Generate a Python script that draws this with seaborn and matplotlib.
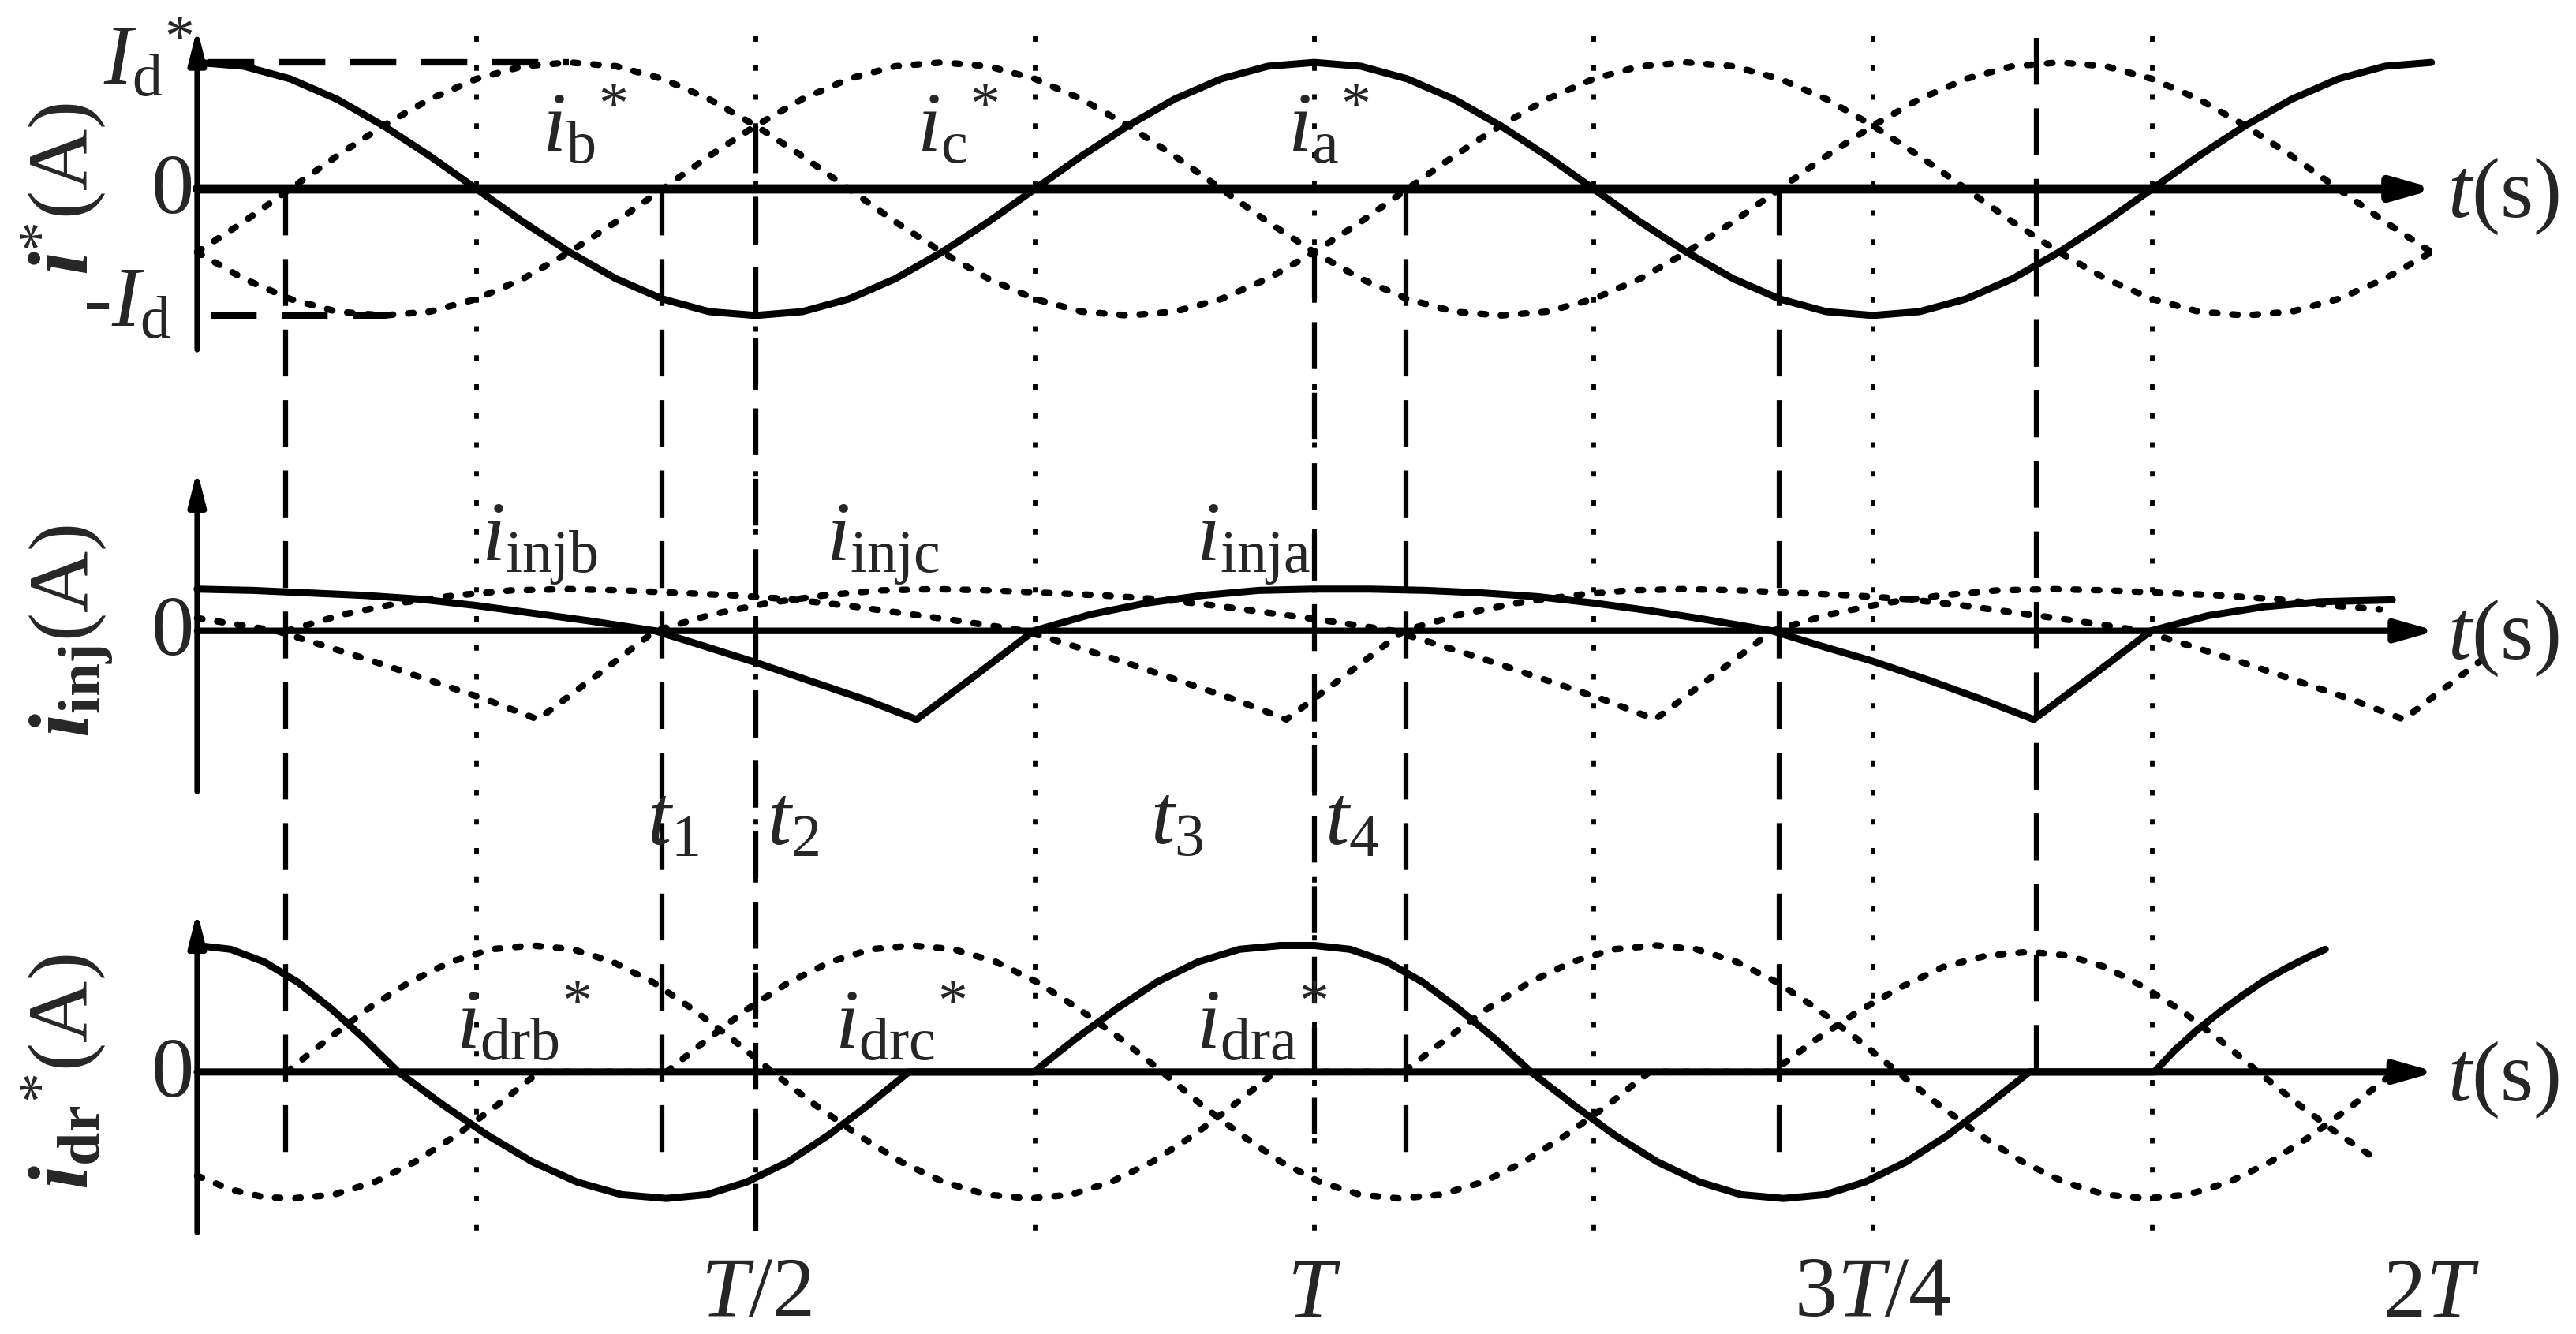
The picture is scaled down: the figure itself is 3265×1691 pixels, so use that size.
import matplotlib
matplotlib.use('Agg')
import matplotlib.pyplot as plt
import seaborn as sns

#======================================================================================
#**************************************************************************************
# Values (time in units of T, currents in units of Id)

# top panel : reference currents, one sample every T/24
tTop = [k / 24 for k in range(49)]
iaRef = [1.00, 0.97, 0.87, 0.71, 0.50, 0.26, 0.00, -0.26, -0.50, -0.71, -0.87, -0.97,
         -1.00, -0.97, -0.87, -0.71, -0.50, -0.26, 0.00, 0.26, 0.50, 0.71, 0.87, 0.97,
         1.00, 0.97, 0.87, 0.71, 0.50, 0.26, 0.00, -0.26, -0.50, -0.71, -0.87, -0.97,
         -1.00, -0.97, -0.87, -0.71, -0.50, -0.26, 0.00, 0.26, 0.50, 0.71, 0.87, 0.97, 1.00]
ibRef = [-0.50, -0.26, 0.00, 0.26, 0.50, 0.71, 0.87, 0.97, 1.00, 0.97, 0.87, 0.71,
         0.50, 0.26, 0.00, -0.26, -0.50, -0.71, -0.87, -0.97, -1.00, -0.97, -0.87, -0.71,
         -0.50, -0.26, 0.00, 0.26, 0.50, 0.71, 0.87, 0.97, 1.00, 0.97, 0.87, 0.71,
         0.50, 0.26, 0.00, -0.26, -0.50, -0.71, -0.87, -0.97, -1.00, -0.97, -0.87, -0.71, -0.50]
icRef = [-0.50, -0.71, -0.87, -0.97, -1.00, -0.97, -0.87, -0.71, -0.50, -0.26, 0.00, 0.26,
         0.50, 0.71, 0.87, 0.97, 1.00, 0.97, 0.87, 0.71, 0.50, 0.26, 0.00, -0.26,
         -0.50, -0.71, -0.87, -0.97, -1.00, -0.97, -0.87, -0.71, -0.50, -0.26, 0.00, 0.26,
         0.50, 0.71, 0.87, 0.97, 1.00, 0.97, 0.87, 0.71, 0.50, 0.26, 0.00, -0.26, -0.50]

# middle panel : injected currents
tInjA = [0.00, 0.05, 0.10, 0.15, 0.20, 0.25, 0.30, 0.35, 0.41, 0.45, 0.50, 0.55, 0.60, 0.644,
         0.70, 0.749, 0.80, 0.85, 0.90, 0.95, 1.00, 1.05, 1.10, 1.15, 1.20, 1.25, 1.30, 1.35,
         1.41, 1.45, 1.50, 1.55, 1.60, 1.644, 1.70, 1.749, 1.80, 1.85, 1.90, 1.965]
iInjA = [0.33, 0.32, 0.30, 0.28, 0.25, 0.20, 0.14, 0.08, 0.00, -0.11, -0.25, -0.40, -0.55, -0.70,
         -0.33, 0.00, 0.13, 0.22, 0.28, 0.32, 0.33, 0.33, 0.32, 0.30, 0.27, 0.22, 0.16, 0.09,
         0.00, -0.11, -0.24, -0.39, -0.55, -0.70, -0.33, 0.00, 0.12, 0.19, 0.23, 0.245]
tInjB = [0.08, 0.131, 0.181, 0.231, 0.281, 0.331, 0.381, 0.431, 0.481, 0.531, 0.581, 0.631,
         0.681, 0.741, 0.781, 0.831, 0.881, 0.931, 0.975, 1.031, 1.08, 1.131, 1.181, 1.231,
         1.281, 1.331, 1.381, 1.431, 1.481, 1.531, 1.581, 1.631, 1.681, 1.741, 1.781, 1.831,
         1.881, 1.931, 1.975, 2.045]
iInjB = [0.00, 0.13, 0.22, 0.28, 0.32, 0.33, 0.32, 0.30, 0.28, 0.25, 0.20, 0.14,
         0.08, 0.00, -0.11, -0.25, -0.40, -0.55, -0.70, -0.33, 0.00, 0.13, 0.22, 0.28,
         0.32, 0.33, 0.32, 0.30, 0.28, 0.25, 0.20, 0.14, 0.08, 0.00, -0.11, -0.25,
         -0.40, -0.55, -0.70, -0.23]
tInjC = [0.00, 0.071, 0.111, 0.161, 0.211, 0.261, 0.305, 0.361, 0.41, 0.461, 0.511, 0.561,
         0.611, 0.661, 0.711, 0.761, 0.811, 0.861, 0.911, 0.961, 1.011, 1.071, 1.111, 1.161,
         1.211, 1.261, 1.305, 1.361, 1.41, 1.461, 1.511, 1.561, 1.611, 1.661, 1.711, 1.761,
         1.811, 1.861, 1.911, 1.954]
iInjC = [0.10, 0.00, -0.11, -0.25, -0.40, -0.55, -0.70, -0.33, 0.00, 0.13, 0.22, 0.28,
         0.32, 0.33, 0.32, 0.30, 0.28, 0.25, 0.20, 0.14, 0.08, 0.00, -0.11, -0.25,
         -0.40, -0.55, -0.70, -0.33, 0.00, 0.13, 0.22, 0.28, 0.32, 0.33, 0.32, 0.30,
         0.28, 0.25, 0.20, 0.17]

# bottom panel : rectifier reference currents
tDrA = [0.00, 0.03, 0.06, 0.09, 0.12, 0.15, 0.18,
        0.22, 0.26, 0.30, 0.34, 0.38, 0.42,
        0.456, 0.492, 0.529, 0.565, 0.601, 0.637,
        0.749, 0.786, 0.823, 0.859, 0.896, 0.933, 0.97, 1.00,
        1.032, 1.065, 1.097, 1.129, 1.162, 1.194,
        1.232, 1.269, 1.307, 1.345, 1.382, 1.42,
        1.457, 1.493, 1.53, 1.567, 1.603, 1.64,
        1.752, 1.77, 1.79, 1.81, 1.83, 1.85, 1.87, 1.89, 1.905]
iDrA = [1.00, 0.97, 0.87, 0.71, 0.50, 0.26, 0.00,
        -0.26, -0.50, -0.71, -0.87, -0.97, -1.00,
        -0.97, -0.87, -0.71, -0.50, -0.26, 0.00,
        0.00, 0.26, 0.50, 0.71, 0.87, 0.97, 1.00, 1.00,
        0.97, 0.87, 0.71, 0.50, 0.26, 0.00,
        -0.26, -0.50, -0.71, -0.87, -0.97, -1.00,
        -0.97, -0.87, -0.71, -0.50, -0.26, 0.00,
        0.00, 0.17, 0.33, 0.47, 0.60, 0.72, 0.82, 0.91, 0.97]
tDrB = [0.08, 0.117, 0.153, 0.19, 0.227, 0.263, 0.30,
        0.336, 0.372, 0.408, 0.443, 0.479, 0.515,
        0.553, 0.592, 0.63, 0.668, 0.707, 0.745,
        0.782, 0.818, 0.855, 0.892, 0.928, 0.965,
        1.08, 1.118, 1.155, 1.193, 1.231, 1.268, 1.306,
        1.342, 1.378, 1.414, 1.45, 1.486, 1.522,
        1.559, 1.596, 1.634, 1.671, 1.708, 1.745,
        1.782, 1.819, 1.856, 1.893, 1.93, 1.967]
iDrB = [0.00, 0.26, 0.50, 0.71, 0.87, 0.97, 1.00,
        0.97, 0.87, 0.71, 0.50, 0.26, 0.00,
        -0.26, -0.50, -0.71, -0.87, -0.97, -1.00,
        -0.97, -0.87, -0.71, -0.50, -0.26, 0.00,
        0.00, 0.26, 0.50, 0.71, 0.87, 0.97, 1.00,
        0.97, 0.87, 0.71, 0.50, 0.26, 0.00,
        -0.26, -0.50, -0.71, -0.87, -0.97, -1.00,
        -0.97, -0.87, -0.71, -0.50, -0.26, 0.00]
tDrC = [0.00, 0.03, 0.06, 0.085,
        0.122, 0.159, 0.195, 0.232, 0.269, 0.306,
        0.42, 0.457, 0.493, 0.53, 0.567, 0.603, 0.64,
        0.677, 0.715, 0.752, 0.789, 0.827, 0.864,
        0.899, 0.935, 0.97, 1.005, 1.041, 1.076,
        1.113, 1.151, 1.188, 1.225, 1.263, 1.30,
        1.41, 1.448, 1.487, 1.525, 1.563, 1.602, 1.64,
        1.674, 1.708, 1.743, 1.777, 1.811, 1.845,
        1.88, 1.915, 1.949]
iDrC = [-0.82, -0.93, -0.99, -1.00,
        -0.97, -0.87, -0.71, -0.50, -0.26, 0.00,
        0.00, 0.26, 0.50, 0.71, 0.87, 0.97, 1.00,
        0.97, 0.87, 0.71, 0.50, 0.26, 0.00,
        -0.26, -0.50, -0.71, -0.87, -0.97, -1.00,
        -0.97, -0.87, -0.71, -0.50, -0.26, 0.00,
        0.00, 0.25, 0.48, 0.67, 0.83, 0.92, 0.95,
        0.92, 0.83, 0.67, 0.48, 0.25, 0.00,
        -0.25, -0.48, -0.68]

# instants marked by vertical lines
dashedT = [0.079, 0.416, 0.50, 1.00, 1.082, 1.416, 1.646]
dottedT = [0.25, 0.50, 0.75, 1.00, 1.25, 1.50, 1.75]

# text
topNames = ['$i_{\\mathrm{b}}{}^{*}$', '$i_{\\mathrm{c}}{}^{*}$', '$i_{\\mathrm{a}}{}^{*}$']
topNamePos = [0.309, 0.644, 0.976]
injNames = ['$i_{\\mathrm{injb}}$', '$i_{\\mathrm{injc}}$', '$i_{\\mathrm{inja}}$']
injNamePos = [0.254, 0.563, 0.894]
drNames = ['$i_{\\mathrm{drb}}{}^{*}$', '$i_{\\mathrm{drc}}{}^{*}$', '$i_{\\mathrm{dra}}{}^{*}$']
drNamePos = [0.232, 0.571, 0.894]
instantLabels = ['$t_1$', '$t_2$', '$t_3$', '$t_4$']
instantPos = [0.403, 0.510, 0.853, 1.009]
timeLabels = ['$T$/2', '$T$', '3$T$/4', '2$T$']
timePos = [0.5, 1.0, 1.5, 2.0]
#**************************************************************************************
#======================================================================================

#======================================================================================
#**************************************************************************************
# Style / layout (reference pixels of the 1568 x 812 view)
sns.set_style('white')
plt.rcParams['font.family'] = ['Liberation Serif', 'DejaVu Serif']
plt.rcParams['mathtext.fontset'] = 'custom'
plt.rcParams['mathtext.rm'] = 'Liberation Serif'
plt.rcParams['mathtext.it'] = 'Liberation Serif:italic'
plt.rcParams['mathtext.bf'] = 'Liberation Serif:bold'
hasBfit = 'mathtext.bfit' in plt.rcParams
if hasBfit:
    plt.rcParams['mathtext.bfit'] = 'Liberation Serif:bold:italic'
bi = '\\mathbfit{i}' if hasBfit else 'i'

W, H = 1568, 812
X0, PXT, PXI = 120, 680, 77
HALF = 115
XL = (-X0 / PXT, (W - X0) / PXT)
AXIS_END = 2.004
YAX = 1.27
FS = 78
K = 'black'

solid = dict(color=K, lw=6.5, estimator=None, sort=False, errorbar=None,
             solid_joinstyle='round')
dotted = dict(color=K, lw=6.0, estimator=None, sort=False, errorbar=None,
              linestyle=(0, (0.8, 2.3)), dash_capstyle='round')

fig = plt.figure(figsize=(32.65, 16.91), dpi=100)

overlay = fig.add_axes([0, 0, 1, 1])
overlay.set_xlim(XL)
overlay.set_ylim(H, 0)
overlay.set_axis_off()


def panel(zero):
    ax = fig.add_axes([0, 1 - (zero + HALF) / H, 1, 2 * HALF / H])
    ax.set_xlim(XL)
    ax.set_ylim(-HALF / PXI, HALF / PXI)
    ax.set_axis_off()
    return ax


def axes_arrows(ax, xlw):
    ax.annotate('', xy=(AXIS_END, 0), xytext=(0, 0),
                arrowprops=dict(arrowstyle='-|>,head_length=3.0,head_width=0.85',
                                mutation_scale=10, lw=xlw, color=K, shrinkA=0, shrinkB=0))
    ax.annotate('', xy=(0, YAX), xytext=(0, -YAX),
                arrowprops=dict(arrowstyle='-|>,head_length=2.6,head_width=0.65',
                                mutation_scale=10, lw=5.0, color=K, shrinkA=0, shrinkB=0))
    ax.text(AXIS_END + 0.01, -0.06, '$t$(s)', fontsize=FS, ha='left', va='center')
    ax.text(-0.022, -0.03, '0', fontsize=FS, ha='center', va='center')
#**************************************************************************************
#======================================================================================

#======================================================================================
#**************************************************************************************
# Vertical time markers
dashTop = [115, 115, 77, 153, 115, 115, 23]
dashBot = [708, 708, 750, 690, 708, 708, 652]
for t, y0, y1 in zip(dashedT, dashTop, dashBot):
    overlay.plot([t, t], [y0, y1], color=K, lw=4.5, linestyle=(0, (9.5, 4.8)))
for t in dottedT:
    overlay.plot([t, t], [22, 750], color=K, lw=4.2, linestyle=(0, (1.2, 5.1)))

for lab, t in zip(instantLabels, instantPos):
    overlay.text(t, 514, lab, fontsize=FS, ha='left', va='baseline')
for lab, t in zip(timeLabels, timePos):
    overlay.text(t, 801, lab, fontsize=FS, ha='center', va='baseline')
#**************************************************************************************
#======================================================================================

#======================================================================================
#**************************************************************************************
# Top panel : i*
axTop = panel(115)
axes_arrows(axTop, 8.5)
axTop.plot([0.01, 0.333], [1, 1], color=K, lw=6.0, linestyle=(0, (7.0, 3.8)))
axTop.plot([0.012, 0.17], [-1, -1], color=K, lw=6.0, linestyle=(0, (7.0, 3.8)))
sns.lineplot(x=tTop, y=ibRef, ax=axTop, **dotted)
sns.lineplot(x=tTop, y=icRef, ax=axTop, **dotted)
sns.lineplot(x=tTop, y=iaRef, ax=axTop, **solid)
for lab, t in zip(topNames, topNamePos):
    axTop.text(t, 0.30, lab, fontsize=FS, ha='left', va='baseline')
axTop.text(-0.003, 0.83, '$I_{\\mathrm{d}}{}^{*}$', fontsize=FS, ha='right', va='baseline')
axTop.text(-0.0235, -1.09, '-$I_{\\mathrm{d}}$', fontsize=FS, ha='right', va='baseline')
axTop.text(-0.12, 0, '$' + bi + '^{*}$(A)', fontsize=FS, rotation=90, ha='center', va='center')
#**************************************************************************************
#======================================================================================

#======================================================================================
#**************************************************************************************
# Middle panel : i_inj
axMid = panel(384)
axes_arrows(axMid, 6.0)
sns.lineplot(x=tInjB, y=iInjB, ax=axMid, **dotted)
sns.lineplot(x=tInjC, y=iInjC, ax=axMid, **dotted)
sns.lineplot(x=tInjA, y=iInjA, ax=axMid, **solid)
for lab, t in zip(injNames, injNamePos):
    axMid.text(t, 0.56, lab, fontsize=FS, ha='left', va='baseline')
axMid.text(-0.113, 0, '$' + bi + '_{\\mathbf{inj}}$(A)', fontsize=FS, rotation=90,
           ha='center', va='center')
#**************************************************************************************
#======================================================================================

#======================================================================================
#**************************************************************************************
# Bottom panel : i_dr*
axBot = panel(652.5)
axes_arrows(axBot, 6.5)
sns.lineplot(x=tDrB, y=iDrB, ax=axBot, **dotted)
sns.lineplot(x=tDrC, y=iDrC, ax=axBot, **dotted)
sns.lineplot(x=tDrA, y=iDrA, ax=axBot, **solid)
for lab, t in zip(drNames, drNamePos):
    axBot.text(t, 0.19, lab, fontsize=FS, ha='left', va='baseline')
axBot.text(-0.12, 0, '$' + bi + '_{\\mathbf{dr}}{}^{*}$(A)', fontsize=FS, rotation=90,
           ha='center', va='center')
#**************************************************************************************
#======================================================================================

fig.savefig('out.png', dpi=100, facecolor='white')
